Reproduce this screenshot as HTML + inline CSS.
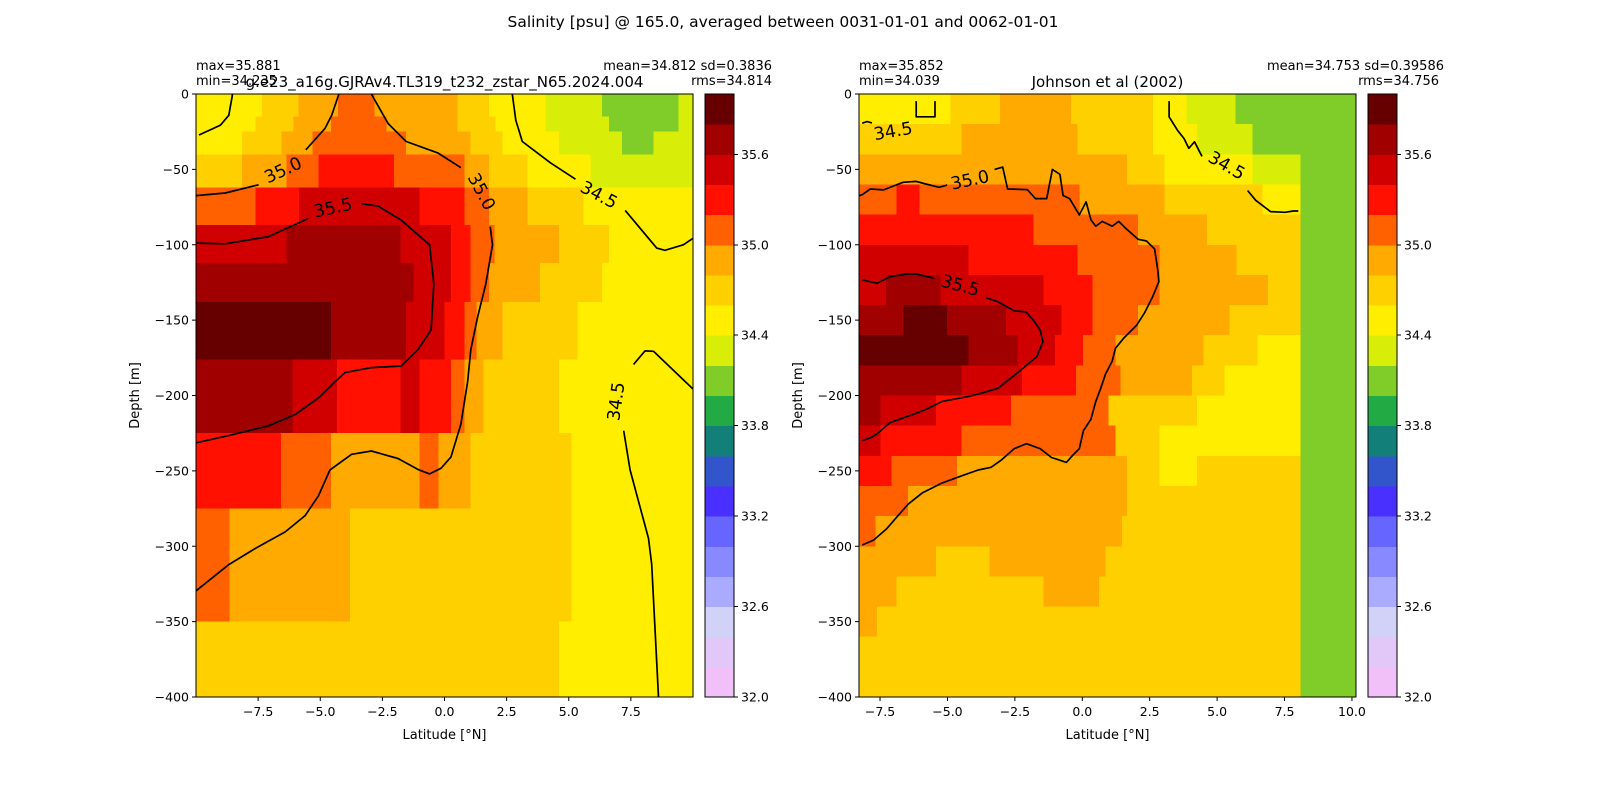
<!DOCTYPE html>
<html><head><meta charset="utf-8"><style>
html,body{margin:0;padding:0;background:#fff;}
svg{display:block;font-family:"DejaVu Sans","Liberation Sans",sans-serif;}
</style></head><body>
<svg id="fig" width="1600" height="800" viewBox="0 0 1600 800" xmlns="http://www.w3.org/2000/svg">
<text x="783" y="27" font-size="15.5" text-anchor="middle">Salinity [psu] @ 165.0, averaged between 0031-01-01 and 0062-01-01</text>
</svg>
<script>
// ---- colormap data ----
const levels = [32.0,32.2,32.4,32.6,32.8,33.0,33.2,33.4,33.6,33.8,34.0,34.2,34.4,34.6,34.8,35.0,35.2,35.4,35.6,35.8,36.0];
const cmapColors = ["#f2c0f8","#e2c8f8","#d2d2f8","#aaaaff","#8888ff","#6666ff","#4a30ff","#3355cc","#128078","#22aa44","#80cc28","#d8ee08","#ffee00","#ffd000","#ffaa00","#ff6000","#ff1000","#d00000","#a00000","#660000"];
const cbarTicks = [32.0,32.6,33.2,33.8,34.4,35.0,35.6];
const depthTicks = [0,-50,-100,-150,-200,-250,-300,-350,-400];

// ---- left panel (model) ----
const leftXTicks = [-7.5,-5.0,-2.5,0.0,2.5,5.0,7.5];
const leftDepthEdges = [0,15,25,40,62,87,112,138,176,225,275,350,400];
const leftRows = [
 [[-7.35,34.5],[-5.88,34.7],[-4.28,34.9],[-2.81,35.1],[0.53,34.9],[1.80,34.7],[4.07,34.5],[6.34,34.3],[9.41,34.1],[10,34.3]],
 [[-7.61,34.5],[-6.08,34.7],[-4.57,34.9],[-2.34,35.1],[0.53,34.9],[2.06,34.7],[4.07,34.5],[6.61,34.3],[9.41,34.1],[10,34.3]],
 [[-8.15,34.5],[-6.55,34.7],[-5.32,34.9],[-1.54,35.1],[1.04,34.9],[2.33,34.7],[4.60,34.5],[7.14,34.3],[8.41,34.1],[10,34.3]],
 [[-8.15,34.7],[-6.35,34.9],[-5.08,35.1],[-2.03,35.3],[0.80,35.1],[1.80,34.9],[3.33,34.7],[5.87,34.5],[10,34.3]],
 [[-7.61,35.1],[-5.85,35.3],[-1.01,35.5],[0.80,35.3],[1.80,35.1],[3.33,34.9],[5.60,34.7],[10,34.5]],
 [[-6.35,35.5],[-1.77,35.7],[0.26,35.5],[1.04,35.3],[2.02,35.1],[4.60,34.9],[6.61,34.7],[10,34.5]],
 [[-1.25,35.7],[0.26,35.5],[1.04,35.3],[1.80,35.1],[3.84,34.9],[6.34,34.7],[10,34.5]],
 [[-4.57,35.9],[-1.54,35.7],[0.00,35.5],[0.80,35.3],[1.28,35.1],[2.33,34.9],[5.36,34.7],[10,34.5]],
 [[-6.11,35.7],[-4.33,35.5],[-1.77,35.3],[-1.01,35.5],[0.26,35.3],[0.80,35.1],[1.56,34.9],[4.60,34.7],[10,34.5]],
 [[-6.57,35.3],[-4.57,35.1],[-1.01,34.9],[-0.24,35.1],[1.04,34.9],[5.11,34.7],[10,34.5]],
 [[-8.66,35.1],[-3.81,34.9],[5.11,34.7],[10,34.5]],
 [[4.60,34.7],[10,34.5]]
];
const leftContours = [
 [[-9.88,-27.2],[-9.02,-20.7],[-8.68,-14.1],[-8.55,-2.2],[-8.53,0]],
 [[-9.99,-67.4],[-8.82,-65.7],[-7.48,-60.2]],
 [[-5.58,-37],[-4.81,-22.8],[-4.54,-14.1],[-4.25,0]],
 [[-2.94,0],[-2.87,-2.2],[-2.27,-19.6],[-1.54,-31.5],[-0.27,-39.1],[0.66,-48.9]],
 [[1.84,-88],[1.93,-100],[1.66,-126],[1.33,-148],[1.06,-169.6],[0.93,-191],[0.66,-219],[0.26,-240.7],[-0.14,-248.3],[-0.60,-252],[-1.07,-249],[-1.87,-241.8],[-2.94,-236.8],[-3.74,-239],[-4.61,-249.4],[-5.08,-266.7],[-5.61,-279.7],[-6.41,-290.5],[-7.61,-301.4],[-8.68,-312.2],[-9.99,-329.5]],
 [[-9.99,-98.9],[-8.82,-99.4],[-7.08,-94.6],[-5.48,-82.6]],
 [[-3.34,-72.8],[-2.67,-74.4],[-1.74,-83.7],[-0.60,-100],[-0.43,-126],[-0.54,-156.5],[-1.07,-169.6],[-1.74,-180.4],[-2.94,-181.5],[-4.01,-184.8],[-4.41,-191],[-5.08,-201.7],[-6.01,-212.6],[-7.08,-220.1],[-8.68,-226.6],[-9.99,-231.4]],
 [[2.73,0],[2.87,-17.4],[3.13,-31.5],[4.27,-45.7],[5.27,-56.5]],
 [[7.27,-77.2],[8.54,-102.2],[8.87,-103.7],[9.61,-100],[10,-95.7]],
 [[7.61,-179.4],[8.07,-170.4],[8.41,-170.7],[10.0,-195.7]],
 [[7.21,-223.4],[7.47,-249.4],[8.21,-294.8],[8.34,-312],[8.61,-400]]
];
const leftLabels = [["35.0",-6.48,-51,-25],["35.0",1.46,-65,62],["35.5",-4.48,-76,-12],["34.5",6.20,-67.4,28],["34.5",6.94,-204,-82]];

// ---- right panel (Johnson et al) ----
const rightXTicks = [-7.5,-5.0,-2.5,0.0,2.5,5.0,7.5,10.0];
const rightDepthEdges = [0,20,40,60,80,100,120,140,160,180,200,220,240,260,280,300,320,340,360,380,400];
const rightRows = [
 [[-4.89,34.5],[-3.05,34.7],[-0.41,34.9],[2.62,34.7],[3.87,34.5],[5.68,34.3],[10.15,34.1]],
 [[-4.47,34.7],[-0.17,34.9],[2.62,34.7],[4.25,34.5],[6.31,34.3],[10.15,34.1]],
 [[1.65,34.9],[3.04,34.7],[6.31,34.5],[8.10,34.3],[10.15,34.1]],
 [[-6.89,35.1],[-6.04,35.3],[-0.11,35.1],[3.04,34.9],[6.68,34.7],[8.10,34.5],[10.15,34.1]],
 [[-1.80,35.3],[2.07,35.1],[4.62,34.9],[8.10,34.7],[10.15,34.1]],
 [[-4.22,35.5],[-0.17,35.3],[2.86,35.1],[5.71,34.9],[8.10,34.7],[10.15,34.1]],
 [[-7.27,35.5],[-5.25,35.7],[-1.44,35.5],[0.38,35.3],[2.86,35.1],[6.89,34.9],[8.10,34.7],[10.15,34.1]],
 [[-6.65,35.7],[-5.01,35.9],[-2.83,35.7],[-0.77,35.5],[0.38,35.3],[2.07,35.1],[5.46,34.9],[8.10,34.7],[10.15,34.1]],
 [[-4.22,35.9],[-2.41,35.7],[-1.01,35.5],[0.02,35.3],[1.23,35.1],[4.50,34.9],[6.49,34.7],[8.10,34.5],[10.15,34.1]],
 [[-4.47,35.7],[-2.23,35.5],[-0.23,35.3],[1.41,35.1],[4.07,34.9],[5.28,34.7],[8.10,34.5],[10.15,34.1]],
 [[-7.49,35.7],[-5.43,35.5],[-2.65,35.3],[0.98,35.1],[4.25,34.7],[8.10,34.5],[10.15,34.1]],
 [[-7.49,35.5],[-4.47,35.3],[1.23,35.1],[2.86,34.7],[8.10,34.5],[10.15,34.1]],
 [[-7.07,35.3],[-4.65,35.1],[1.65,34.9],[2.86,34.7],[4.25,34.5],[8.10,34.7],[10.15,34.1]],
 [[-6.46,35.1],[1.65,34.9],[8.10,34.7],[10.15,34.1]],
 [[-7.67,35.1],[1.47,34.9],[8.10,34.7],[10.15,34.1]],
 [[-5.43,34.9],[-3.44,34.7],[0.86,34.9],[8.10,34.7],[10.15,34.1]],
 [[-6.89,34.9],[-1.44,34.7],[0.62,34.9],[8.10,34.7],[10.15,34.1]],
 [[-7.61,34.9],[8.10,34.7],[10.15,34.1]],
 [[8.10,34.7],[10.15,34.1]],
 [[8.10,34.7],[10.15,34.1]]
];
const rightContours = [
 [[-8.16,-19.4],[-7.98,-18.3],[-7.80,-19.2]],
 [[-6.16,-4.7],[-6.16,-15.1],[-5.46,-15.1],[-5.46,-4.7]],
 [[-8.28,-67.5],[-8.16,-66.8],[-7.86,-63],[-7.37,-63.6],[-6.65,-58.6],[-6.16,-58],[-5.80,-59.7],[-5.31,-61.9],[-5.01,-60.4]],
 [[-3.25,-50],[-2.95,-48.5],[-2.77,-63],[-2.04,-63.4],[-1.74,-69.4],[-1.32,-69.4],[-1.11,-50],[-0.83,-53.3],[-0.71,-67.3],[-0.47,-69.4],[-0.11,-80.2],[0.14,-71.6],[0.32,-83.4],[0.50,-87.7],[0.74,-84.5],[1.11,-87.7],[1.35,-84.5],[1.59,-88.8],[2.07,-96.4],[2.38,-97.5],[2.68,-102.8],[2.80,-116.9],[2.84,-124.4],[2.62,-134.1],[2.32,-144.9],[2.01,-153.5],[1.53,-162.1],[1.23,-168.6],[1.11,-177.2],[0.86,-185.8],[0.68,-195.5],[0.50,-203.9],[0.32,-215.8],[0.04,-223.4],[-0.11,-235.3],[-0.35,-239.6],[-0.59,-244.4],[-0.83,-242.9],[-1.14,-241.1],[-1.56,-235.3],[-2.07,-232],[-2.53,-235.3],[-3.01,-242.9],[-3.38,-247.6],[-3.86,-249.4],[-4.47,-253.3],[-5.19,-258],[-5.92,-264.5],[-6.46,-272.1],[-6.83,-279.7],[-7.25,-288.3],[-7.74,-295.9],[-8.16,-299.2]],
 [[-8.16,-123.3],[-7.61,-125.5],[-7.13,-121.2],[-6.52,-119.4],[-6.16,-119.4],[-5.49,-122.2]],
 [[-3.56,-135.2],[-3.13,-137.8],[-2.53,-143.8],[-2.10,-144.5],[-1.80,-150.3],[-1.56,-156.7],[-1.46,-164.3],[-1.68,-174],[-2.17,-181.5],[-2.77,-190.2],[-3.13,-195.2],[-3.74,-198.5],[-4.22,-200.6],[-5.19,-203.9],[-5.80,-209.3],[-6.28,-212.6],[-7.13,-218],[-7.61,-225.5],[-7.86,-228.1],[-8.16,-229.9]],
 [[3.22,-4.7],[3.22,-15.1],[3.53,-24.1],[3.77,-29.5],[3.95,-36],[4.16,-31.7],[4.44,-41.4]],
 [[6.13,-64],[6.43,-70.5],[6.98,-78],[7.52,-78.5],[7.83,-77.6],[8.01,-77.6]]
];
const rightLabels = [["34.5",-7.01,-25.2,-10],["35.0",-4.16,-57.6,-12],["35.5",-4.53,-127.6,15],["34.5",5.34,-47.9,30]];

const NS = "http://www.w3.org/2000/svg";
const fig = document.getElementById('fig');
function mk(tag, attrs, parent, text){
  const e = document.createElementNS(NS, tag);
  for (const k in attrs) e.setAttribute(k, attrs[k]);
  if (text !== undefined) e.textContent = text;
  (parent||fig).appendChild(e);
  return e;
}
function colorFor(v){
  let i = Math.floor((v - levels[0]) / (levels[1]-levels[0]) + 1e-9);
  i = Math.max(0, Math.min(cmapColors.length-1, i));
  return cmapColors[i];
}
function fmt(v){ return (v<0?"\u2212":"") + Math.abs(v); }
function fmt1(v){ return (v<0?"\u2212":"") + Math.abs(v).toFixed(1); }

function drawPanel(cfg){
  const {x0,x1,y0,y1,latMin,latMax,dMax} = cfg;
  const X = lat => x0 + (lat-latMin)/(latMax-latMin)*(x1-x0);
  const Y = d => y0 + (-d)/dMax*(y1-y0);
  const g = mk('g', {});
  
  
  const clipId = cfg.name + '-clip';
  const defs = mk('defs', {}, g);
  const cp = mk('clipPath', {id: clipId}, defs);
  mk('rect', {x:x0, y:y0, width:x1-x0, height:y1-y0}, cp);
  const mesh = mk('g', {'clip-path':'url(#'+clipId+')', 'shape-rendering':'crispEdges'}, g);
  
  
  cfg.rows.forEach((row, ri) => {
    let start = latMin;
    const ya = Y(-cfg.depthEdges[ri]), yb = Y(-cfg.depthEdges[ri+1]);
    row.forEach(run => {
      const xa = X(start), xb = X(run[0]);
      const r = mk('rect', {x:xa, y:ya, width:Math.max(0,xb-xa+0.6), height:yb-ya+0.6, fill:colorFor(run[1])}, mesh);
      
      
      start = run[0];
    });
  });
  const cg = mk('g', {'clip-path':'url(#'+clipId+')'}, g);
  
  
  cfg.contours.forEach(line => {
    const p = mk('polyline', {points: line.map(pt => X(pt[0]).toFixed(1)+','+Y(pt[1]).toFixed(1)).join(' '), fill:'none', stroke:'#000', 'stroke-width':1.7, 'stroke-linejoin':'round'}, cg);
    
    
  });
  cfg.labels.forEach(l => {
    const t = mk('text', {x:X(l[1]), y:Y(l[2]), 'font-size':17.5, 'text-anchor':'middle', 'dominant-baseline':'central', transform:'rotate('+l[3]+' '+X(l[1])+' '+Y(l[2])+')'}, g, l[0]);
    
    
  });
  const frame = mk('rect', {x:x0, y:y0, width:x1-x0, height:y1-y0, fill:'none', stroke:'#000', 'stroke-width':1}, g);
  
  
  depthTicks.forEach(d => {
    mk('line', {x1:x0-4, x2:x0, y1:Y(d), y2:Y(d), stroke:'#000', 'stroke-width':1}, g);
    const t = mk('text', {x:x0-7, y:Y(d)+4.5, 'font-size':12.5, 'text-anchor':'end'}, g, fmt(d));
    
    
  });
  cfg.xTicks.forEach(v => {
    mk('line', {x1:X(v), x2:X(v), y1:y1, y2:y1+4, stroke:'#000', 'stroke-width':1}, g);
    const t = mk('text', {x:X(v), y:y1+19, 'font-size':12.5, 'text-anchor':'middle'}, g, fmt1(v));
    
    
  });
  const xl = mk('text', {x:(x0+x1)/2, y:739, 'font-size':13, 'text-anchor':'middle'}, g, 'Latitude [\u00b0N]');
  
  
  const yl = mk('text', {x:0, y:0, 'font-size':13, 'text-anchor':'middle', transform:'translate('+(x0-57)+','+((y0+y1)/2)+') rotate(-90)'}, g, 'Depth [m]');
  
  
  // colorbar
  const cb = mk('g', {'shape-rendering':'crispEdges'}, g);
  
  
  const cx0 = cfg.cbX, cw = 29;
  const CY = v => y1 - (v-levels[0])/(levels[levels.length-1]-levels[0])*(y1-y0);
  cmapColors.forEach((c,i) => {
    const r = mk('rect', {x:cx0, y:CY(levels[i+1]), width:cw, height:CY(levels[i])-CY(levels[i+1])+0.5, fill:c}, cb);
    
    
  });
  mk('rect', {x:cx0, y:y0, width:cw, height:y1-y0, fill:'none', stroke:'#000', 'stroke-width':1}, cb);
  cbarTicks.forEach(v => {
    mk('line', {x1:cx0+cw, x2:cx0+cw+4, y1:CY(v), y2:CY(v), stroke:'#000'}, cb);
    const t = mk('text', {x:cx0+cw+7, y:CY(v)+4.5, 'font-size':12.5}, cb, v.toFixed(1));
    
    
  });
  // stats and titles
  const s1 = mk('text', {x:x0, y:70, 'font-size':13}, g, cfg.maxTxt);
  
  
  const s2 = mk('text', {x:x0, y:85, 'font-size':13}, g, cfg.minTxt);
  
  
  const s3 = mk('text', {x:cfg.statR, y:70, 'font-size':13, 'text-anchor':'end'}, g, cfg.meanTxt);
  
  
  const s4 = mk('text', {x:cfg.rmsR, y:85, 'font-size':13, 'text-anchor':'end'}, g, cfg.rmsTxt);
  
  
  const tt = mk('text', {x:(x0+x1)/2, y:87, 'font-size':15, 'text-anchor':'middle'}, g, cfg.title);
  
  
}

drawPanel({name:'model-panel', x0:196, x1:693, y0:94, y1:697, latMin:-10, latMax:10, dMax:400,
  rows:leftRows, depthEdges:leftDepthEdges, contours:leftContours, labels:leftLabels, xTicks:leftXTicks,
  cbX:705, maxTxt:'max=35.881', minTxt:'min=34.235', meanTxt:'mean=34.812 sd=0.3836', rmsTxt:'rms=34.814', statR:772, rmsR:772,
  title:'g.e23_a16g.GJRAv4.TL319_t232_zstar_N65.2024.004'});
drawPanel({name:'johnson-panel', x0:859, x1:1356, y0:94, y1:697, latMin:-8.28, latMax:10.15, dMax:400,
  rows:rightRows, depthEdges:rightDepthEdges, contours:rightContours, labels:rightLabels, xTicks:rightXTicks,
  cbX:1368, maxTxt:'max=35.852', minTxt:'min=34.039', meanTxt:'mean=34.753 sd=0.39586', rmsTxt:'rms=34.756', statR:1444, rmsR:1439,
  title:'Johnson et al (2002)'});
</script>
</body></html>
